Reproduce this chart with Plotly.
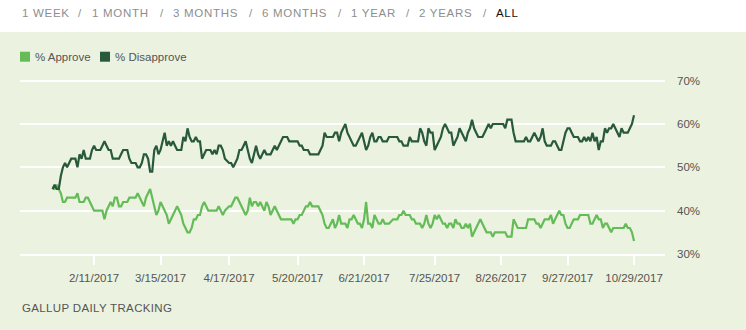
import pandas as pd
import plotly.graph_objects as go

# ---- data -------------------------------------------------------------
start_date, end_date = "2017-01-22", "2017-10-29"
no_poll_days = ["2017-04-16", "2017-05-29", "2017-07-04", "2017-09-04"]
dates = [d for d in pd.date_range(start_date, end_date)
         if d.strftime("%Y-%m-%d") not in no_poll_days]

series_names = ["% Approve", "% Disapprove"]

approve = [
    45, 45, 46, 45, 44, 42, 42, 43, 43, 43,
    43, 43, 44, 42, 42, 42, 43, 43, 42, 41,
    40, 40, 40, 40, 40, 38, 40, 41, 42, 41,
    43, 43, 41, 41, 42, 42, 42, 43, 43, 43,
    43, 44, 43, 42, 41, 43, 44, 45, 43, 41,
    39, 40, 42, 41, 40, 39, 37, 38, 39, 40,
    41, 40, 39, 37, 36, 35, 35, 36, 38, 38,
    39, 39, 41, 42, 41, 40, 40, 40, 40, 40,
    41, 40, 39, 40, 41, 41, 42, 43, 43, 42,
    41, 40, 39, 40, 43, 41, 42, 42, 41, 42,
    41, 40, 42, 41, 39, 40, 41, 40, 39, 38,
    38, 38, 38, 38, 38, 37, 38, 38, 39, 39,
    40, 41, 41, 42, 41, 41, 41, 40, 39, 37,
    36, 36, 37, 38, 36, 37, 39, 37, 37, 37,
    36, 38, 38, 39, 38, 37, 37, 36, 38, 42,
    37, 37, 36, 39, 38, 37, 37, 38, 37, 37,
    37, 38, 38, 38, 39, 39, 40, 39, 39, 39,
    38, 38, 37, 37, 37, 36, 37, 39, 37, 36,
    37, 39, 38, 39, 38, 37, 37, 36, 37, 37,
    36, 38, 37, 37, 36, 36, 37, 36, 37, 34,
    35, 36, 37, 38, 37, 36, 35, 35, 35, 34,
    35, 35, 35, 35, 35, 35, 34, 34, 34, 38,
    37, 36, 36, 36, 36, 38, 38, 38, 38, 37,
    37, 36, 37, 38, 38, 38, 39, 37, 38, 39,
    40, 39, 39, 37, 36, 36, 37, 38, 38, 38,
    39, 39, 39, 39, 39, 37, 37, 38, 39, 38,
    38, 36, 37, 37, 36, 35, 36, 36, 36, 36,
    36, 36, 37, 36, 36, 35, 33,
]

disapprove = [
    45, 46, 45, 45, 48, 50, 51, 50, 51, 52,
    52, 52, 50, 53, 52, 54, 52, 52, 52, 54,
    55, 54, 54, 54, 55, 56, 55, 54, 54, 52,
    52, 52, 52, 53, 54, 54, 54, 52, 51, 51,
    51, 50, 50, 51, 53, 53, 52, 49, 49, 54,
    55, 53, 54, 56, 58, 55, 56, 55, 56, 55,
    54, 54, 54, 57, 56, 59, 57, 56, 56, 57,
    56, 56, 52, 53, 54, 54, 54, 53, 54, 53,
    55, 55, 54, 52, 51, 51, 50, 51, 52, 54,
    54, 55, 56, 54, 52, 51, 53, 55, 53, 52,
    53, 54, 53, 53, 53, 54, 55, 54, 55, 56,
    57, 57, 57, 56, 56, 56, 56, 56, 55, 55,
    54, 54, 54, 53, 53, 53, 53, 54, 55, 58,
    57, 57, 57, 57, 58, 58, 56, 58, 59, 60,
    58, 57, 56, 55, 55, 56, 57, 58, 56, 54,
    55, 57, 58, 56, 56, 57, 57, 56, 56, 56,
    57, 57, 57, 57, 56, 56, 55, 55, 55, 57,
    56, 56, 56, 56, 59, 58, 56, 55, 59, 58,
    58, 54, 55, 56, 57, 59, 60, 59, 58, 58,
    55, 56, 57, 59, 58, 57, 56, 58, 59, 61,
    59, 58, 57, 57, 57, 58, 59, 60, 59, 60,
    60, 60, 60, 60, 60, 59, 61, 61, 61, 58,
    56, 56, 56, 56, 57, 56, 56, 57, 58, 57,
    56, 57, 59, 56, 55, 55, 55, 56, 56, 55,
    54, 54, 56, 58, 59, 59, 58, 57, 57, 57,
    56, 56, 57, 56, 57, 56, 58, 56, 57, 54,
    56, 56, 59, 58, 59, 59, 60, 59, 58, 57,
    59, 58, 58, 58, 59, 60, 62,
]

x_tick_dates = ["2017-02-11", "2017-03-15", "2017-04-17", "2017-05-20", "2017-06-21",
                "2017-07-25", "2017-08-26", "2017-09-27", "2017-10-29"]
x_tick_labels = ["2/11/2017", "3/15/2017", "4/17/2017", "5/20/2017", "6/21/2017",
                 "7/25/2017", "8/26/2017", "9/27/2017", "10/29/2017"]
y_tick_values = [30, 40, 50, 60, 70]
y_tick_labels = ["30%", "40%", "50%", "60%", "70%"]

range_labels = ["1 WEEK", "1 MONTH", "3 MONTHS", "6 MONTHS", "1 YEAR", "2 YEARS", "ALL"]
footer_text = "GALLUP DAILY TRACKING"

# ---- style ------------------------------------------------------------
W, H = 746, 330
M_L, M_R, M_T, M_B = 20, 81, 72, 76
BG = "#EBF2DF"
COLORS = ["#64BC58", "#28593A"]
FONT = "Helvetica Neue, Helvetica, Arial, Liberation Sans, sans-serif"
TEXT = "#555555"


def px(x):
    return (x - M_L) / (W - M_L - M_R)


def py(y):
    return (H - M_B - y) / (H - M_T - M_B)


def spaced(text, amount):
    return f'<span style="letter-spacing:{amount}px">{text}</span>'


fig = go.Figure()
for name, values, color in zip(series_names, [approve, disapprove], COLORS):
    fig.add_trace(go.Scatter(
        x=dates, y=values, name=name, mode="lines",
        line=dict(color=color, width=2.2), showlegend=False,
    ))

shapes = [
    # white strip holding the range selector
    dict(type="rect", xref="paper", yref="paper", x0=px(-5), x1=px(W + 5),
         y0=py(32), y1=py(-5), fillcolor="white", line=dict(width=0), layer="below"),
]
annotations = []

# legend swatches and labels
legend_x = [20, 100]
for name, color, x0 in zip(series_names, COLORS, legend_x):
    shapes.append(dict(type="rect", xref="paper", yref="paper",
                       x0=px(x0), x1=px(x0 + 10), y0=py(61.7), y1=py(51.7),
                       fillcolor=color, line=dict(width=0)))
    annotations.append(dict(text=name, xref="paper", yref="paper",
                            x=px(x0 + 13), y=py(56.7), xanchor="left", yanchor="middle",
                            showarrow=False, font=dict(size=11.5, color=TEXT, family=FONT)))

# range selector row
nav_x = [20, 90, 171, 260, 349, 417, 494]
slash_x = [76, 158, 247, 336, 404, 481]
for label, x0 in zip(range_labels, nav_x):
    annotations.append(dict(text=spaced(label, 0.7), xref="paper", yref="paper",
                            x=px(x0), y=py(13.3), xanchor="left", yanchor="middle",
                            showarrow=False,
                            font=dict(size=11.5, family=FONT,
                                      color="#111111" if label == "ALL" else "#8E8E8E")))
for x0 in slash_x:
    annotations.append(dict(text="/", xref="paper", yref="paper",
                            x=px(x0), y=py(13.3), xanchor="left", yanchor="middle",
                            showarrow=False, font=dict(size=11.5, family=FONT, color="#8E8E8E")))

annotations.append(dict(text=spaced(footer_text, 0.35), xref="paper", yref="paper",
                        x=px(20), y=py(308.3), xanchor="left", yanchor="middle",
                        showarrow=False, font=dict(size=11.5, color=TEXT, family=FONT)))

fig.update_layout(
    width=W, height=H,
    margin=dict(l=M_L, r=M_R, t=M_T, b=M_B, pad=0),
    paper_bgcolor=BG, plot_bgcolor=BG,
    font=dict(family=FONT, size=11.5, color=TEXT),
    showlegend=False,
    shapes=shapes, annotations=annotations,
    xaxis=dict(
        type="date",
        range=["2017-01-06 08:00", "2017-11-12 22:00"],
        tickmode="array", tickvals=x_tick_dates, ticktext=x_tick_labels,
        showgrid=False, zeroline=False,
        showline=True, linecolor="white", linewidth=2,
        ticks="outside", ticklen=9, tickwidth=2, tickcolor="white",
        ticklabelstandoff=3,
        tickfont=dict(size=11.5, color=TEXT, family=FONT),
        fixedrange=True,
    ),
    yaxis=dict(
        range=[30, 72], side="right",
        tickmode="array", tickvals=y_tick_values, ticktext=y_tick_labels,
        showgrid=True, gridcolor="white", gridwidth=2,
        zeroline=False, showline=False, ticks="",
        ticklabelstandoff=11,
        tickfont=dict(size=11.5, color=TEXT, family=FONT),
        fixedrange=True,
    ),
)

fig.write_html("out.html", config={"displayModeBar": False})
